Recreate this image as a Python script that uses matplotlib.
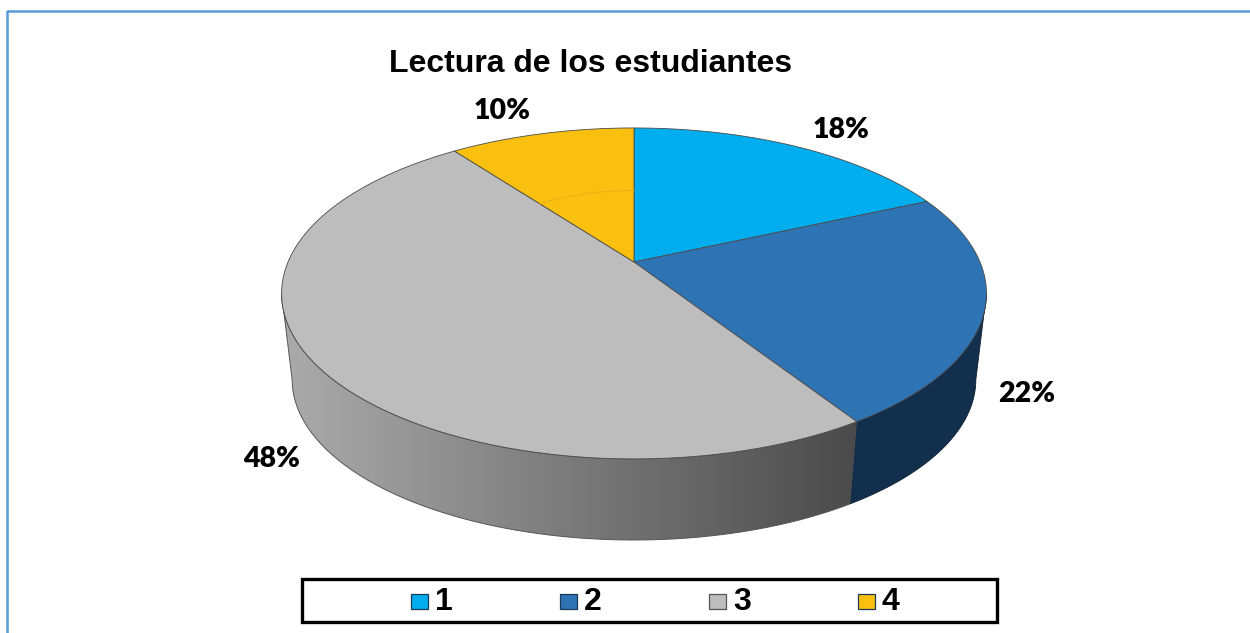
import numpy as np
import matplotlib
matplotlib.use('Agg')
import matplotlib.pyplot as plt
from matplotlib.patches import Polygon, Rectangle, PathPatch
from matplotlib.path import Path
from matplotlib.colors import LinearSegmentedColormap

## Data
title = 'Lectura de los estudiantes'
categories = ['1', '2', '3', '4']
values = [18.3, 22.6, 48.9, 10.2]
labels = ['18%', '22%', '48%', '10%']
colors = ['#00AEEF', '#2E74B5', '#BDBDBD', '#FAC010']

## Canvas, one data unit is one pixel
fig = plt.figure(figsize=(12.5, 6.33), dpi=100)
ax = fig.add_axes([0, 0, 1, 1])
ax.set_xlim(0, 1250)
ax.set_ylim(633, 0)
ax.axis('off')

# frame
ax.plot([6.8, 6.8, 1250], [633, 11.2, 11.2], color='#5B9BD5', lw=1.8, zorder=1)

## Perspective of the pie
K = 0.19
A = 346.0
B = 159.5


def project(theta, r=1.0, cx=634.0, cy=262.0, s=1.0):
    ''' theta in degrees, clockwise from the top '''
    t = np.radians(theta)
    u, v = r*np.sin(t), r*np.cos(t)
    w = 1 + K*v
    return cx + s*A*u/w, cy - s*B*v/w


def top(theta, r=1.0):
    return project(theta, r)


def bottom(theta):
    return project(theta, 1.0, 634.0, 349.0, 0.97)


edges = np.concatenate([[0], np.cumsum(values)])*360.0/sum(values)

## Side wall
right_t, left_t = 101.0, 259.0
th = np.linspace(right_t, edges[2], 60)
xt, yt = top(th)
xb, yb = bottom(th[::-1])
ax.add_patch(Polygon(np.r_[np.c_[xt, yt], np.c_[xb, yb]], fc='#132F4E', ec='#10202f', lw=0.6, zorder=2))

th = np.linspace(edges[2], left_t, 120)
xt, yt = top(th)
xb, yb = bottom(th[::-1])
wall = np.r_[np.c_[xt, yt], np.c_[xb, yb]]
cmap = LinearSegmentedColormap.from_list('wall', ['#ABABAB', '#4A4A4A'])
im = ax.imshow(np.linspace(0, 1, 256)[None, :], cmap=cmap, aspect='auto',
               extent=(282, 862, 545, 290), zorder=2)
clip = PathPatch(Path(wall), transform=ax.transData, fc='none', ec='#555555', lw=0.7, zorder=3)
ax.add_patch(clip)
im.set_clip_path(clip)
ax.set_xlim(0, 1250)
ax.set_ylim(633, 0)

## Top slices
for i, c in enumerate(colors):
    th = np.linspace(edges[i], edges[i+1], 100)
    x, y = top(th)
    pts = np.r_[[[634, 262]], np.c_[x, y]]
    ax.add_patch(Polygon(pts, closed=True, fc=c, ec='#4a4a4a', lw=0.6, joinstyle='round', zorder=4))

# faint ring on the last slice
th = np.linspace(edges[3], 360, 30)
x, y = top(th, 0.49)
ax.plot(x, y, color='#E8B012', lw=0.8, zorder=5)

## Texts
font = 'Liberation Sans'
ax.text(591, 64, title, family=font, weight='bold', fontsize=23, ha='center', va='center', zorder=6)
label_pos = [(841, 130), (1027, 394), (272, 459), (502, 111)]
for lab, (lx, ly) in zip(labels, label_pos):
    ax.text(lx, ly, lab, family='Lato', weight='heavy', fontsize=20.5, ha='center', va='center', zorder=6)

## Legend
ax.add_patch(Rectangle((301.5, 579), 695, 43, fc='white', ec='black', lw=2.4, zorder=6))
key_x = [411, 560, 709, 858]
for cat, c, kx in zip(categories, colors, key_x):
    ax.add_patch(Rectangle((kx, 594), 17, 15, fc=c, ec='#1a3a55' if c != '#BDBDBD' else '#555555', lw=0.9, zorder=7))
    ax.text(kx + 24, 602.5, cat, family=font, weight='bold', fontsize=23, ha='left', va='center', zorder=7)

fig.savefig('out.png', dpi=100)
